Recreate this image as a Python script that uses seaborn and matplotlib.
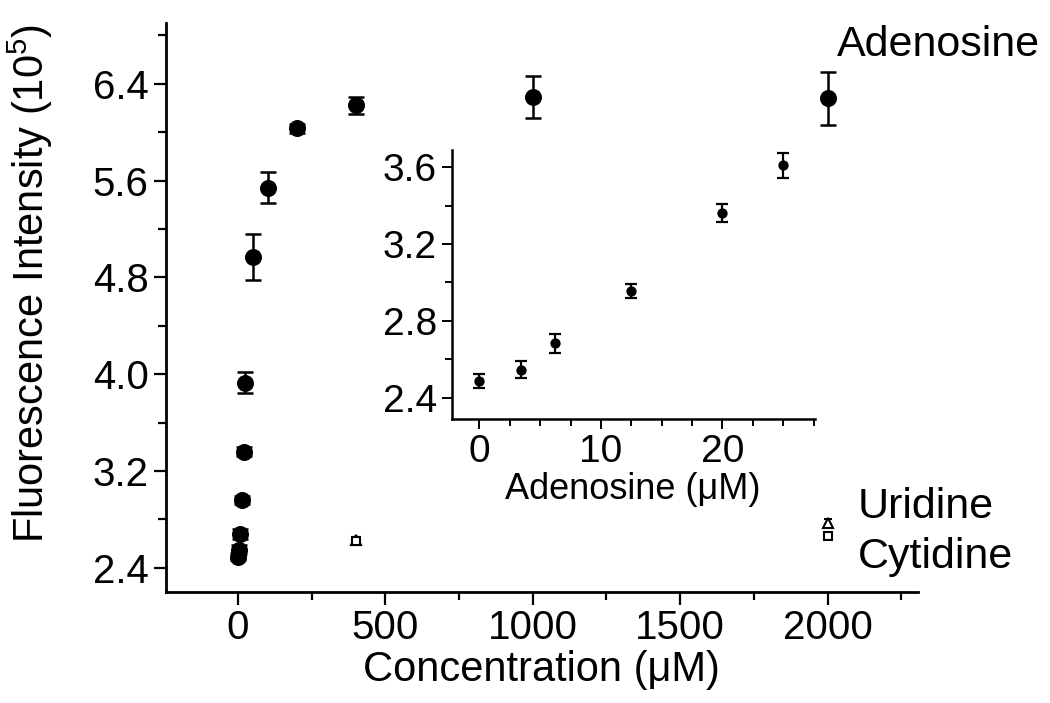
import matplotlib
matplotlib.use("Agg")
import matplotlib.pyplot as plt
from matplotlib.ticker import MultipleLocator
import pandas as pd
import seaborn as sns

# main panel: adenosine titration (uM) vs fluorescence (x 10^5)
ado_conc = [0, 3.4, 6.25, 12.5, 20, 25, 50, 100, 200, 400, 1000, 2000]
ado_fluo = [2.49, 2.55, 2.68, 2.96, 3.36, 3.93, 4.97, 5.54, 6.03, 6.22, 6.29, 6.28]
ado_err = [0.03, 0.04, 0.04, 0.03, 0.04, 0.09, 0.19, 0.13, 0.04, 0.07, 0.17, 0.22]

uri_conc = [0, 400, 2000]
uri_fluo = [2.50, 2.63, 2.77]
uri_err = [0.02, 0.02, 0.03]

cyt_conc = [0, 400, 2000]
cyt_fluo = [2.49, 2.62, 2.66]
cyt_err = [0.02, 0.02, 0.02]

# inset: low concentration range
ins_conc = [0, 3.4, 6.25, 12.5, 20, 25]
ins_fluo = [2.486, 2.547, 2.683, 2.955, 3.36, 3.61]
ins_err = [0.036, 0.045, 0.048, 0.038, 0.046, 0.065]

sns.set_style("ticks")
plt.rcParams["font.family"] = ["Liberation Sans", "DejaVu Sans"]
plt.rcParams["mathtext.fontset"] = "custom"
plt.rcParams["mathtext.rm"] = "Liberation Sans"
for key in ["text.color", "axes.labelcolor", "xtick.color", "ytick.color", "axes.edgecolor"]:
    plt.rcParams[key] = "black"

fig = plt.figure(figsize=(10.5, 7.03), dpi=100)
ax = fig.add_axes([0.158, 0.158, 0.716, 0.809])

ax.errorbar(uri_conc, uri_fluo, yerr=uri_err, fmt="^", ms=7, mfc="white",
            mec="black", mew=1.5, ecolor="black", elinewidth=1.2, capsize=3, zorder=2)
ax.errorbar(cyt_conc, cyt_fluo, yerr=cyt_err, fmt="s", ms=6, mfc="white",
            mec="black", mew=1.5, ecolor="black", elinewidth=1.2, capsize=3, zorder=2)

df = pd.DataFrame({"conc": ado_conc, "fluo": ado_fluo})
ax.errorbar(ado_conc, ado_fluo, yerr=ado_err, fmt="none", ecolor="black",
            elinewidth=1.8, capsize=6, capthick=1.8, zorder=4)
sns.scatterplot(data=df, x="conc", y="fluo", ax=ax, color="black", s=150,
                edgecolor="black", linewidth=0, zorder=5)

ax.set_xlim(-245, 2306)
ax.set_ylim(2.2, 6.9)
ax.xaxis.set_major_locator(MultipleLocator(500))
ax.xaxis.set_minor_locator(MultipleLocator(250))
ax.yaxis.set_minor_locator(MultipleLocator(0.4))
ax.set_yticks([2.4, 3.2, 4.0, 4.8, 5.6, 6.4])
ax.set_yticklabels(["2.4", "3.2", "4.0", "4.8", "5.6", "6.4"])
ax.tick_params(which="major", length=9, width=1.6, labelsize=29)
ax.tick_params(which="minor", length=6, width=1.6)
ax.set_xlabel("Concentration (\u03bcM)", fontsize=30, labelpad=2)
ax.set_ylabel("Fluorescence Intensity (10$^5$)", fontsize=30)
ax.yaxis.set_label_coords(-0.148, 0.543)
sns.despine(ax=ax)
for s in ["left", "bottom"]:
    ax.spines[s].set_linewidth(2)

fig.text(0.894, 0.936, "Adenosine", fontsize=31, ha="center", va="center")
fig.text(0.817, 0.279, "Uridine", fontsize=31, ha="left", va="center")
fig.text(0.817, 0.208, "Cytidine", fontsize=31, ha="left", va="center")

# inset
ins = fig.add_axes([0.430, 0.404, 0.346, 0.383])
dfi = pd.DataFrame({"conc": ins_conc, "fluo": ins_fluo})
ins.errorbar(ins_conc, ins_fluo, yerr=ins_err, fmt="none", ecolor="black",
             elinewidth=1.6, capsize=4, capthick=1.6, zorder=2)
sns.scatterplot(data=dfi, x="conc", y="fluo", ax=ins, color="black", s=55,
                linewidth=0, zorder=3)
ins.set_xlim(-2.3, 27.6)
ins.set_ylim(2.29, 3.69)
ins.xaxis.set_major_locator(MultipleLocator(10))
ins.xaxis.set_minor_locator(MultipleLocator(2.5))
ins.set_yticks([2.4, 2.8, 3.2, 3.6])
ins.yaxis.set_minor_locator(MultipleLocator(0.2))
ins.tick_params(which="major", length=7, width=1.4, labelsize=28)
ins.tick_params(which="minor", length=5, width=1.4)
ins.set_xlabel("Adenosine (\u03bcM)", fontsize=26, labelpad=2)
ins.set_ylabel("")
ins.patch.set_alpha(0)
sns.despine(ax=ins)
for s in ["left", "bottom"]:
    ins.spines[s].set_linewidth(1.8)

fig.savefig("out.png", dpi=100)
